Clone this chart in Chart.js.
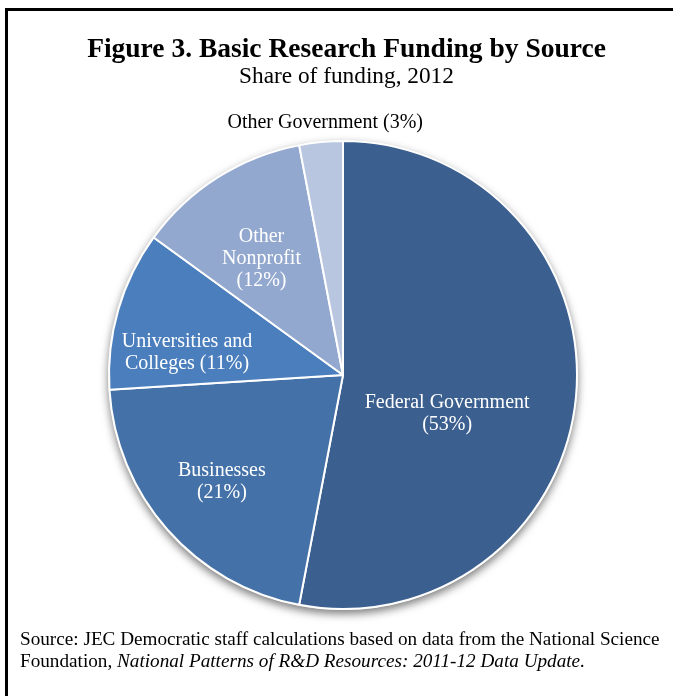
<!DOCTYPE html>
<html>
<head>
<meta charset="utf-8">
<script src="https://cdn.jsdelivr.net/npm/chart.js@4/dist/chart.umd.min.js"></script>
<style>
  html, body { margin: 0; padding: 0; background: #fff; }
  #wrap { position: relative; width: 673px; height: 696px; overflow: hidden; font-family: "Liberation Serif", serif; }
  #frame { position: absolute; left: 5px; top: 8px; width: 700px; height: 720px; border-left: 3px solid #000; border-top: 3px solid #000; }
  #grafico { position: absolute; left: 0; top: 0; }
  .titulo { position: absolute; left: 0; width: 693px; text-align: center; color: #000; }
  #t1 { top: 32px; font-size: 27.5px; font-weight: bold; }
  #t2 { top: 62px; font-size: 23.3px; }
  #fonte { position: absolute; left: 20px; top: 628px; font-size: 19.2px; line-height: 22px; color: #000; white-space: nowrap; }
</style>
</head>
<body>
<div id="wrap">
  <div id="frame"></div>
  <canvas id="grafico" width="673" height="696"></canvas>
  <div class="titulo" id="t1">Figure 3. Basic Research Funding by Source</div>
  <div class="titulo" id="t2">Share of funding, 2012</div>
  <div id="fonte">Source: JEC Democratic staff calculations based on data from the National Science<br>Foundation, <i>National Patterns of R&amp;D Resources: 2011-12 Data Update.</i></div>
</div>
<script>
// fontes de financiamento (% do total, 2012)
const fontes = ["Federal Government", "Businesses", "Universities and Colleges", "Other Nonprofit", "Other Government"];
const percentuais = [53, 21, 11, 12, 3];
const cores = ["#3b5f8f", "#4471a7", "#4a7ebc", "#93a8cf", "#b9c6e0"];

// como cada rótulo é quebrado em linhas
const linhasRotulo = [["Federal Government"], ["Businesses"], ["Universities and", "Colleges"], ["Other", "Nonprofit"], ["Other Government"]];
const pctMesmaLinha = [false, false, true, false, true];

// posição do rótulo: fração do raio no ângulo médio + ajuste fino
const estiloRotulo = [
    { dist: 0.447, dx: 0, dy: 29, cor: "#fff" },
    { dist: 0.69, dx: 0, dy: 0, cor: "#fff" },
    { dist: 0.672, dx: -5, dy: 22, cor: "#fff" },
    { dist: 0.61, dx: -5, dy: 4, cor: "#fff" },
    { dist: 1.08, dx: 6, dy: -1, cor: "#000" }
];

const sombraPizza = {
    id: "sombraPizza",
    beforeDatasetsDraw(chart) {
        const arco = chart.getDatasetMeta(0).data[0];
        if (!arco) return;
        const ctx = chart.ctx;
        ctx.save();
        ctx.shadowColor = "rgba(0,0,0,0.5)";
        ctx.shadowBlur = 8;
        ctx.shadowOffsetY = 4;
        ctx.fillStyle = "#ddd";
        ctx.beginPath();
        ctx.arc(arco.x, arco.y, arco.outerRadius + 1, 0, Math.PI * 2);
        ctx.fill();
        ctx.restore();
    }
};

const rotulos = {
    id: "rotulos",
    afterDatasetsDraw(chart) {
        const ctx = chart.ctx;
        const meta = chart.getDatasetMeta(0);
        ctx.save();
        ctx.font = '20px "Liberation Serif"';
        ctx.textAlign = "center";
        ctx.textBaseline = "middle";
        meta.data.forEach((arco, i) => {
            const est = estiloRotulo[i];
            const meio = (arco.startAngle + arco.endAngle) / 2;
            const r = arco.outerRadius * est.dist;
            const cx = arco.x + Math.cos(meio) * r + est.dx;
            const cy = arco.y + Math.sin(meio) * r + est.dy;
            const linhas = linhasRotulo[i].slice();
            const pct = "(" + percentuais[i] + "%)";
            if (pctMesmaLinha[i]) {
                linhas[linhas.length - 1] += " " + pct;
            } else {
                linhas.push(pct);
            }
            const alt = 22;
            const y0 = cy - (linhas.length - 1) * alt / 2;
            ctx.fillStyle = est.cor;
            linhas.forEach((txt, k) => ctx.fillText(txt, cx, y0 + k * alt));
        });
        ctx.restore();
    }
};

function criarGrafico() {
    const ctx = document.getElementById("grafico").getContext("2d");
    return new Chart(ctx, {
        type: "pie",
        data: {
            labels: fontes,
            datasets: [{
                data: percentuais,
                backgroundColor: cores,
                borderColor: "#fff",
                borderWidth: 2
            }]
        },
        options: {
            responsive: false,
            animation: false,
            layout: { padding: { left: 108, right: 95, top: 140, bottom: 86 } },
            plugins: {
                legend: { display: false },
                tooltip: { enabled: false }
            }
        },
        plugins: [sombraPizza, rotulos]
    });
}

window.onload = criarGrafico;
</script>
</body>
</html>
